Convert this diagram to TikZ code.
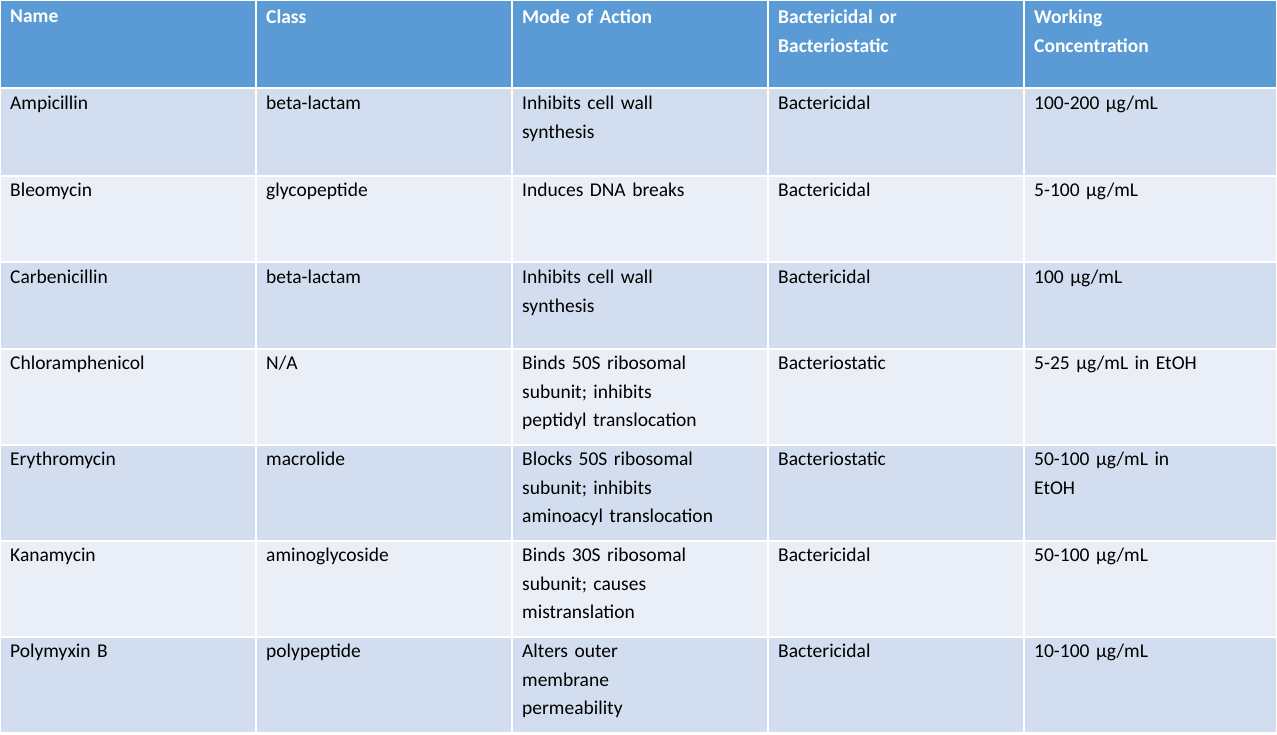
\documentclass[tikz,border=0pt]{standalone}
\usepackage{fontspec}
\setmainfont{Carlito}
\definecolor{hdr}{HTML}{5B9BD5}
\definecolor{rowa}{HTML}{D2DEEF}
\definecolor{rowb}{HTML}{EAEFF7}
\begin{document}
\begin{tikzpicture}[x=1pt,y=-1pt,
  cell/.style={anchor=north west,inner sep=0pt,align=left,text width=240pt,font=\fontsize{19.5}{28.5}\selectfont},
  hcell/.style={cell,text=white,font=\fontsize{19.5}{28.5}\selectfont\bfseries}]
\useasboundingbox (0,0) rectangle (1277,735);
\fill[white] (0,0) rectangle (1277,735);
\def\cols{0,256,512,768,1024}
% header
\foreach \x/\w in {0/256,256/512,512/768,768/1024,1024/1277}{\fill[hdr] (\x+1,1) rectangle (\w-1,87);}
\foreach \ya/\yb/\c in {88/176/rowa,176/262/rowb,262/349/rowa,349/445/rowb,445/541/rowa,541/637/rowb,637/733/rowa}{
  \foreach \x/\w in {0/256,256/512,512/768,768/1024,1024/1277}{\fill[\c] (\x+1,\ya+1) rectangle (\w-1,\yb-1);}}
\node[hcell] (h1) at (10,10) {Name};
\node[hcell] (h2) at (266,10) {Class};
\node[hcell] (h3) at (522,10) {Mode of Action};
\node[hcell] (h4) at (778,10) {Bactericidal or\\Bacteriostatic};
\node[hcell] (h5) at (1034,10) {Working\\Concentration};
% rows
\foreach \y/\a/\b/\c/\d/\e [count=\i] in {
 96/Ampicillin/beta-lactam/{Inhibits cell wall\\synthesis}/Bactericidal/{100-200 µg/mL},
 183/Bleomycin/glycopeptide/{Induces DNA breaks}/Bactericidal/{5-100 µg/mL},
 270/Carbenicillin/beta-lactam/{Inhibits cell wall\\synthesis}/Bactericidal/{100 µg/mL},
 356/Chloramphenicol/N\slash A/{Binds 50S ribosomal\\subunit; inhibits\\peptidyl translocation}/Bacteriostatic/{5-25 µg/mL in EtOH},
 452/Erythromycin/macrolide/{Blocks 50S ribosomal\\subunit; inhibits\\aminoacyl translocation}/Bacteriostatic/{50-100 µg/mL in\\EtOH},
 548/Kanamycin/aminoglycoside/{Binds 30S ribosomal\\subunit; causes\\mistranslation}/Bactericidal/{50-100 µg/mL},
 644/Polymyxin B/polypeptide/{Alters outer\\membrane\\permeability}/Bactericidal/{10-100 µg/mL}}{
 \node[cell] (r\i a) at (10,\y) {\a};
 \node[cell] (r\i b) at (266,\y) {\b};
 \node[cell] (r\i c) at (522,\y) {\c};
 \node[cell] (r\i d) at (778,\y) {\d};
 \node[cell] (r\i e) at (1034,\y) {\e};
}
\end{tikzpicture}
\end{document}
